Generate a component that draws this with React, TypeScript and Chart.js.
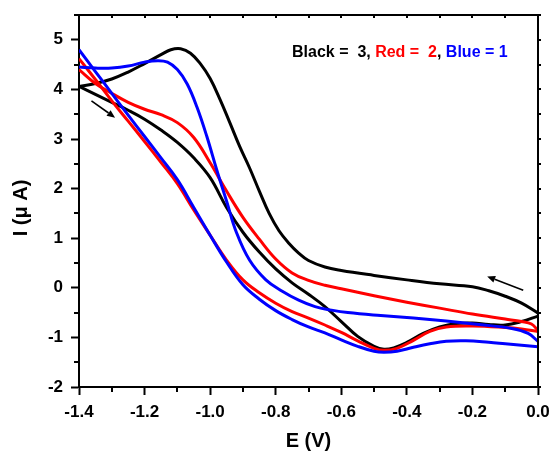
import React, { useEffect, useRef } from 'react';
import { Chart, registerables } from 'chart.js';

Chart.register(...registerables);

// Cyclic voltammograms: potential E (V) and current I (µA) for the two
// branches (upper / lower) of each cycle.
const blackUpE = [-1.40, -1.35, -1.30, -1.25, -1.20, -1.15, -1.12, -1.09, -1.06, -1.03, -1.00, -0.97, -0.94, -0.91, -0.88, -0.85, -0.82, -0.79, -0.76, -0.73, -0.70, -0.65, -0.60, -0.50, -0.40, -0.30, -0.20, -0.15, -0.10, -0.05, 0.00];
const blackUpI = [4.06, 4.12, 4.21, 4.35, 4.52, 4.70, 4.80, 4.82, 4.73, 4.52, 4.22, 3.80, 3.33, 2.85, 2.42, 1.95, 1.50, 1.15, 0.90, 0.70, 0.55, 0.42, 0.35, 0.25, 0.16, 0.08, 0.02, -0.06, -0.17, -0.31, -0.51];
const blackLowE = [-1.40, -1.35, -1.30, -1.25, -1.20, -1.15, -1.10, -1.05, -1.00, -0.95, -0.90, -0.85, -0.80, -0.75, -0.70, -0.65, -0.60, -0.55, -0.50, -0.47, -0.44, -0.40, -0.35, -0.30, -0.25, -0.20, -0.15, -0.10, -0.05, 0.00];
const blackLowI = [4.06, 3.90, 3.74, 3.58, 3.40, 3.18, 2.93, 2.62, 2.22, 1.62, 1.12, 0.72, 0.38, 0.10, -0.13, -0.38, -0.68, -0.98, -1.18, -1.24, -1.21, -1.10, -0.92, -0.79, -0.72, -0.71, -0.74, -0.75, -0.68, -0.57];

const redUpE = [-1.40, -1.35, -1.30, -1.25, -1.20, -1.15, -1.10, -1.05, -1.00, -0.95, -0.90, -0.85, -0.80, -0.75, -0.70, -0.65, -0.60, -0.50, -0.40, -0.30, -0.20, -0.10, -0.05, -0.02, 0.00];
const redUpI = [4.40, 4.12, 3.92, 3.74, 3.60, 3.49, 3.33, 3.03, 2.52, 1.95, 1.42, 0.98, 0.58, 0.30, 0.15, 0.05, -0.02, -0.16, -0.29, -0.41, -0.53, -0.63, -0.68, -0.73, -0.86];
const redLowE = [-1.40, -1.35, -1.30, -1.25, -1.20, -1.15, -1.10, -1.05, -1.00, -0.95, -0.90, -0.85, -0.80, -0.75, -0.70, -0.65, -0.60, -0.55, -0.50, -0.47, -0.43, -0.38, -0.33, -0.28, -0.20, -0.10, -0.05, 0.00];
const redLowI = [4.62, 4.20, 3.77, 3.36, 2.95, 2.53, 2.10, 1.57, 1.06, 0.56, 0.16, -0.10, -0.31, -0.48, -0.61, -0.75, -0.90, -1.07, -1.22, -1.26, -1.22, -1.06, -0.88, -0.79, -0.77, -0.80, -0.83, -0.88];

const blueUpE = [-1.40, -1.35, -1.30, -1.25, -1.20, -1.16, -1.13, -1.10, -1.07, -1.04, -1.01, -0.98, -0.95, -0.92, -0.88, -0.83, -0.78, -0.73, -0.68, -0.63, -0.58, -0.48, -0.38, -0.28, -0.18, -0.08, -0.03, 0.00];
const blueUpI = [4.45, 4.43, 4.43, 4.47, 4.55, 4.58, 4.55, 4.40, 4.11, 3.64, 3.05, 2.38, 1.75, 1.12, 0.56, 0.16, -0.07, -0.25, -0.38, -0.45, -0.50, -0.56, -0.61, -0.67, -0.74, -0.82, -0.92, -1.08];
const blueLowE = [-1.40, -1.35, -1.30, -1.25, -1.20, -1.15, -1.10, -1.05, -1.00, -0.95, -0.90, -0.85, -0.80, -0.75, -0.70, -0.65, -0.60, -0.55, -0.50, -0.47, -0.43, -0.38, -0.33, -0.28, -0.22, -0.15, -0.10, -0.05, 0.00];
const blueLowI = [4.80, 4.36, 3.92, 3.48, 3.05, 2.62, 2.18, 1.62, 1.06, 0.52, 0.06, -0.23, -0.46, -0.64, -0.79, -0.91, -1.05, -1.18, -1.28, -1.30, -1.28, -1.20, -1.13, -1.08, -1.07, -1.10, -1.13, -1.16, -1.19];

// Scan direction arrows: [E, I] start and end points
const scanArrows: { from: [number, number]; to: [number, number] }[] = [
  { from: [-1.362, 3.77], to: [-1.29, 3.43] },
  { from: [-0.045, -0.05], to: [-0.155, 0.23] },
];

// Axis ranges and tick steps
const eMin = -1.4;
const eMax = 0.0;
const eStep = 0.1;
const iMin = -2;
const iMax = 5.5;
const iStep = 0.5;

// Cycle key
const keyParts = ['Black =  3, ', 'Red =  2, ', 'Blue = 1'];

const FONT = '"Liberation Sans", Arial, Helvetica, sans-serif';
const BLACK = '#000000';
const RED = '#ff0000';
const BLUE = '#0000ff';

const zip = (es: number[], is: number[]) => es.map((e, k) => ({ x: e, y: is[k] }));

const branch = (label: string, es: number[], is: number[], color: string) => ({
  label,
  data: zip(es, is),
  borderColor: color,
  backgroundColor: color,
  borderWidth: 3,
  pointRadius: 0,
  pointHoverRadius: 0,
  showLine: true,
  tension: 0.4,
  fill: false,
});

const isMajorE = (v: number) => Math.round(v * 10) % 2 === 0;
const isMajorI = (v: number) => Math.abs(v - Math.round(v)) < 1e-6;

const decorations = {
  id: 'decorations',
  afterDraw(chart: any) {
    const { ctx, chartArea } = chart;
    const { left, right, top, bottom } = chartArea;
    const xs = chart.scales.x;
    const ys = chart.scales.y;
    ctx.save();
    ctx.strokeStyle = BLACK;
    ctx.fillStyle = BLACK;

    // top and right frame edges
    ctx.lineWidth = 2;
    ctx.beginPath();
    ctx.moveTo(left - 1, top);
    ctx.lineTo(right, top);
    ctx.lineTo(right, bottom + 1);
    ctx.stroke();

    // minor ticks plus small ticks on the top/right edges
    ctx.lineWidth = 2;
    ctx.beginPath();
    xs.ticks.forEach((t: any) => {
      const px = Math.round(xs.getPixelForValue(t.value));
      if (!isMajorE(t.value)) {
        ctx.moveTo(px, bottom);
        ctx.lineTo(px, bottom + 5);
      }
      ctx.moveTo(px, top);
      ctx.lineTo(px, top + 3);
    });
    ys.ticks.forEach((t: any) => {
      const py = Math.round(ys.getPixelForValue(t.value));
      if (!isMajorI(t.value)) {
        ctx.moveTo(left, py);
        ctx.lineTo(left - 5, py);
      }
      ctx.moveTo(right, py);
      ctx.lineTo(right + 3, py);
    });
    ctx.stroke();

    // scan direction arrows
    ctx.lineWidth = 1.6;
    scanArrows.forEach(({ from, to }) => {
      const x0 = xs.getPixelForValue(from[0]);
      const y0 = ys.getPixelForValue(from[1]);
      const x1 = xs.getPixelForValue(to[0]);
      const y1 = ys.getPixelForValue(to[1]);
      const ang = Math.atan2(y1 - y0, x1 - x0);
      const head = 8;
      const half = 3.5;
      const bx = x1 - head * Math.cos(ang);
      const by = y1 - head * Math.sin(ang);
      ctx.beginPath();
      ctx.moveTo(x0, y0);
      ctx.lineTo(bx, by);
      ctx.stroke();
      ctx.beginPath();
      ctx.moveTo(x1, y1);
      ctx.lineTo(bx + half * Math.sin(ang), by - half * Math.cos(ang));
      ctx.lineTo(bx - half * Math.sin(ang), by + half * Math.cos(ang));
      ctx.closePath();
      ctx.fill();
    });

    // cycle key
    ctx.font = `bold 16px ${FONT}`;
    ctx.textBaseline = 'alphabetic';
    ctx.textAlign = 'left';
    const colors = [BLACK, RED, BLUE];
    let tx = 292;
    keyParts.forEach((part, k) => {
      const main = part.replace(/, $/, '');
      const tail = part.endsWith(', ') ? ', ' : '';
      ctx.fillStyle = colors[k];
      ctx.fillText(main, tx, 56.5);
      tx += ctx.measureText(main).width;
      if (tail) {
        ctx.fillStyle = BLACK;
        ctx.fillText(tail, tx, 56.5);
        tx += ctx.measureText(tail).width;
      }
    });

    // y axis title
    ctx.fillStyle = BLACK;
    ctx.font = `bold 20px ${FONT}`;
    ctx.translate(27, 208);
    ctx.rotate(-Math.PI / 2);
    ctx.textAlign = 'center';
    ctx.fillText('I (μ A)', 0, 0);
    ctx.restore();
  },
};

export default function App() {
  const canvasRef = useRef<HTMLCanvasElement | null>(null);

  useEffect(() => {
    const canvas = canvasRef.current;
    if (!canvas) return;
    const chart = new Chart(canvas, {
      type: 'scatter',
      data: {
        datasets: [
          branch('Blue up', blueUpE, blueUpI, BLUE),
          branch('Blue low', blueLowE, blueLowI, BLUE),
          branch('Red up', redUpE, redUpI, RED),
          branch('Red low', redLowE, redLowI, RED),
          branch('Black up', blackUpE, blackUpI, BLACK),
          branch('Black low', blackLowE, blackLowI, BLACK),
        ] as any,
      },
      options: {
        responsive: false,
        animation: false,
        devicePixelRatio: 1,
        events: [],
        layout: { padding: { top: 15, right: 12, left: 0, bottom: 0 } },
        plugins: {
          legend: { display: false },
          tooltip: { enabled: false },
          title: { display: false },
        },
        scales: {
          x: {
            type: 'linear',
            min: eMin,
            max: eMax,
            afterFit: (s: any) => {
              s.height = 66;
              s.paddingLeft = 0;
              s.paddingRight = 0;
            },
            border: { display: true, color: BLACK, width: 2 },
            grid: {
              display: true,
              drawOnChartArea: false,
              drawTicks: true,
              tickLength: 8,
              tickWidth: 2,
              tickColor: (c: any) => (c.tick && isMajorE(c.tick.value) ? BLACK : 'rgba(0,0,0,0)'),
            },
            ticks: {
              stepSize: eStep,
              autoSkip: false,
              maxRotation: 0,
              padding: 7,
              color: BLACK,
              font: { family: FONT, size: 17, weight: 'bold' },
              callback: (v: any) => {
                const n = Math.round(Number(v) * 10);
                return n % 2 === 0 ? (n / 10).toFixed(1) : '';
              },
            },
            title: {
              display: true,
              text: 'E (V)',
              color: BLACK,
              font: { family: FONT, size: 20, weight: 'bold' },
              padding: { top: 0, bottom: 0 },
            },
          },
          y: {
            type: 'linear',
            min: iMin,
            max: iMax,
            afterFit: (s: any) => {
              s.width = 79;
              s.paddingTop = 0;
              s.paddingBottom = 0;
            },
            border: { display: true, color: BLACK, width: 2 },
            grid: {
              display: true,
              drawOnChartArea: false,
              drawTicks: true,
              tickLength: 8,
              tickWidth: 2,
              tickColor: (c: any) => (c.tick && isMajorI(c.tick.value) ? BLACK : 'rgba(0,0,0,0)'),
            },
            ticks: {
              stepSize: iStep,
              autoSkip: false,
              padding: 8,
              color: BLACK,
              font: { family: FONT, size: 17, weight: 'bold' },
              callback: (v: any) => (isMajorI(Number(v)) ? String(Math.round(Number(v))) : ''),
            },
          },
        },
      },
      plugins: [decorations],
    } as any);
    return () => chart.destroy();
  }, []);

  return (
    <div style={{ position: 'absolute', left: 0, top: 0, width: 550, height: 453, background: '#ffffff' }}>
      <canvas ref={canvasRef} width={550} height={453} style={{ display: 'block' }} />
    </div>
  );
}
